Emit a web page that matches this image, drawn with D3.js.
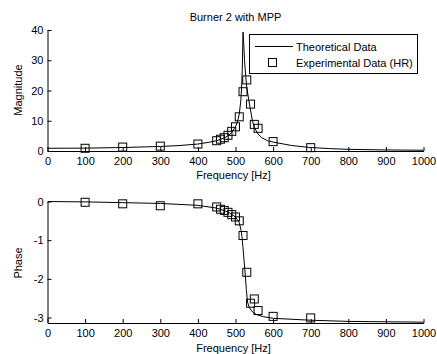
<!DOCTYPE html>
<html><head><meta charset="utf-8">
<script src="https://cdn.jsdelivr.net/npm/d3@7"></script>
<style>
body{margin:0;background:#fff;}
text{font-family:"Liberation Sans",Arial,sans-serif;font-size:11px;fill:#000;}
</style></head>
<body><svg id="c" width="437" height="354"></svg>
<script>
// Theoretical curve
const theoFreq = [0,100,200,300,350,400,430,450,470,480,490,500,505,510,514,516,518,520,522,524,527,530,535,540,545,550,560,570,585,600,650,700,750,800,900,1000];
const theoMag  = [0.9,0.95,1.15,1.5,1.8,2.3,2.9,3.4,4.3,5.0,6.2,8.0,9.6,12.2,16.5,20.5,27,39.3,35,30,25,21,17,13.5,10,7.8,5.6,4.4,3.4,2.95,1.8,1.15,0.8,0.55,0.35,0.25];
const theoPhaseFreq = [0,100,200,300,400,450,480,500,510,515,517,520,523,526,529,532,537,545,555,575,600,700,800,1000];
const theoPhase = [0,-0.01,-0.03,-0.05,-0.1,-0.17,-0.27,-0.4,-0.55,-0.75,-0.9,-1.2,-1.55,-1.9,-2.3,-2.6,-2.75,-2.85,-2.92,-2.98,-3.02,-3.07,-3.1,-3.12];
// Experimental data (HR)
const expFreq  = [100,200,300,400,450,460,470,480,490,500,510,520,530,540,550,560,600,700];
const expMag   = [0.9,1.3,1.6,2.3,3.4,3.9,4.4,5.2,6.5,8.0,11.3,19.6,23.5,15.5,8.8,7.5,3.1,1.1];
const expPhase = [-0.02,-0.06,-0.11,-0.06,-0.14,-0.2,-0.23,-0.28,-0.34,-0.4,-0.5,-0.88,-1.83,-2.63,-2.52,-2.82,-2.97,-3.01];
const xTicks = [0,100,200,300,400,500,600,700,800,900,1000];
const magTicks = [0,10,20,30,40];
const phaseTicks = [-3,-2,-1,0];

const svg = d3.select("#c");
const x = d3.scaleLinear().domain([0,1000]).range([47.5,423.5]);
const yM = d3.scaleLinear().domain([0,40]).range([151,30]);
const yP = d3.scaleLinear().domain([-Math.PI,0]).range([323,201.5]);

function drawPanel(y, yTicks, fx, fy, ex, ey, ylabel, ylabelY, xlabelY){
  const g = svg.append("g");
  const clipId = "clip"+ylabel;
  svg.append("clipPath").attr("id",clipId).append("rect")
    .attr("x",x.range()[0]).attr("y",y.range()[1]-2).attr("width",x.range()[1]-x.range()[0]+1).attr("height",y.range()[0]-y.range()[1]+3);
  const xa = g.append("g").attr("transform",`translate(0,${y.range()[0]})`)
    .call(d3.axisBottom(x).tickValues(xTicks).tickSizeInner(-4).tickSizeOuter(0).tickPadding(6).tickFormat(d3.format("d")));
  const ya = g.append("g").attr("transform",`translate(${x.range()[0]},0)`)
    .call(d3.axisLeft(y).tickValues(yTicks).tickSizeInner(-4).tickSizeOuter(0).tickPadding(4).tickFormat(d=>d<0?"-"+Math.abs(d):d));
  [xa,ya].forEach(a=>{a.select(".domain").attr("stroke","#000");a.selectAll(".tick line").attr("stroke","#000");a.selectAll("text").attr("font-size",11).attr("font-family","Liberation Sans, Arial, sans-serif");});
  const line = d3.line().x(d=>x(d[0])).y(d=>y(d[1]));
  g.append("path").datum(fx.map((f,i)=>[f,fy[i]])).attr("d",line)
    .attr("fill","none").attr("stroke","#000").attr("stroke-width",1).attr("clip-path",`url(#${clipId})`);
  g.selectAll("rect.m").data(ex.map((f,i)=>[f,ey[i]])).enter().append("rect")
    .attr("x",d=>x(d[0])-4).attr("y",d=>y(d[1])-4).attr("width",8).attr("height",8)
    .attr("fill","none").attr("stroke","#000").attr("stroke-width",1);
  g.append("text").attr("transform",`translate(22,${ylabelY}) rotate(-90)`).attr("text-anchor","middle").text(ylabel);
  g.append("text").attr("x",233.5).attr("y",xlabelY).attr("text-anchor","middle").text("Frequency [Hz]");
}
drawPanel(yM, magTicks, theoFreq, theoMag, expFreq, expMag, "Magnitude", 90, 179);
drawPanel(yP, phaseTicks, theoPhaseFreq, theoPhase, expFreq, expPhase, "Phase", 263, 351.5);

svg.append("text").attr("x",235.5).attr("y",21).attr("text-anchor","middle").text("Burner 2 with MPP");

const lg = svg.append("g");
lg.append("rect").attr("x",249.5).attr("y",34.5).attr("width",168).attr("height",39).attr("fill","#fff").attr("stroke","#000");
lg.append("line").attr("x1",255).attr("x2",293).attr("y1",46.5).attr("y2",46.5).attr("stroke","#000");
lg.append("text").attr("x",296).attr("y",50.5).text("Theoretical Data");
lg.append("rect").attr("x",268.5).attr("y",58.5).attr("width",8).attr("height",8).attr("fill","none").attr("stroke","#000");
lg.append("text").attr("x",296).attr("y",66.5).text("Experimental Data (HR)");
</script></body></html>
